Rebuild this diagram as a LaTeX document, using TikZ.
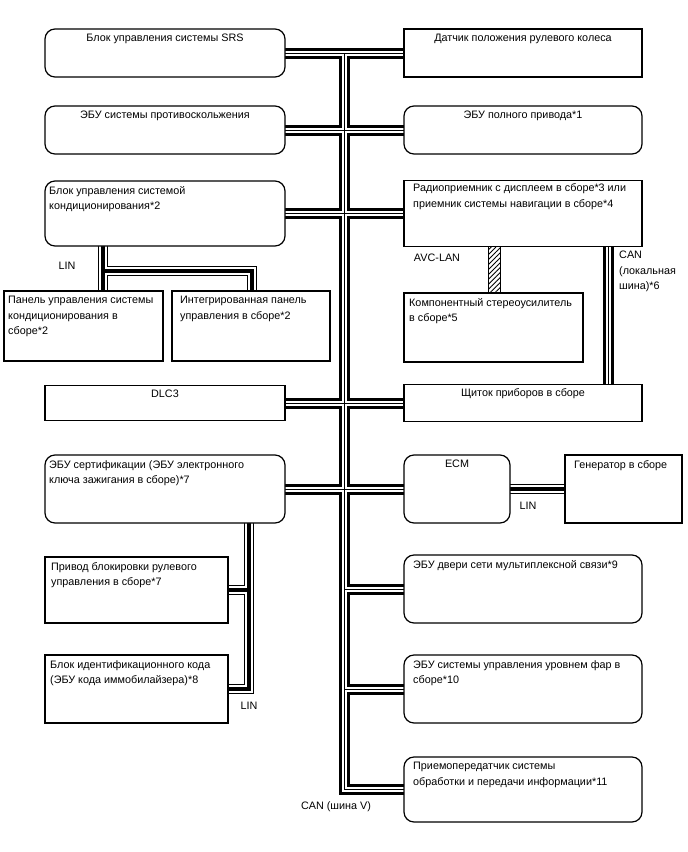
\documentclass[tikz,border=0pt]{standalone}
\usepackage{fontspec}
\setmainfont{Liberation Sans}
\usetikzlibrary{patterns.meta}
\pgfdeclarelayer{background}
\pgfsetlayers{background,main}
\tikzset{
  bx/.style={draw, fill=white, line width=1.2pt, inner sep=0pt, outer sep=0pt},
  rbx/.style={bx, rounded corners=10pt},
  txt/.style={inner sep=0pt, font=\fontsize{10.8}{15.5}\selectfont, align=left},
  cano/.style={line width=11pt, black, line join=miter},
  canw/.style={line width=5pt, white, line join=miter},
  canc/.style={line width=1pt, black, line join=miter},
  lino/.style={line width=10pt, black, line join=miter},
  linw/.style={line width=7.5pt, white, line join=miter},
  linc/.style={line width=3.8pt, black, line join=miter},
  avcbus/.style={draw=black, line width=0.8pt, pattern={Lines[angle=45,distance=3.5pt,line width=0.9pt]}}
}
\newcommand\cannet[1]{%
  \draw[#1] (srs.east) -- (dat.west);
  \draw[#1] (abs.east) -- (awd.west);
  \draw[#1] (ac.east) -- (radio.west);
  \draw[#1] (dlc.east) -- (meter.west);
  \draw[#1] (cert.east) -- (ecm.west);
  \draw[#1] (bus |- door.west) -- (door.west);
  \draw[#1] (bus |- hl.west) -- (hl.west);
  \draw[#1] (bus) -- (bus |- tx.west) -- (tx.west);
  \draw[#1] (radio.south -| canl) -- (meter.north -| canl);
}
\newcommand\linnet[1]{%
  \draw[#1] (linac) -- (linac |- acp.north);
  \draw[#1] (linac |- linbr) -- (linbr) -- (linbr |- icp.north);
  \draw[#1] (lincert) -- (lincert |- immo.east) -- (immo.east);
  \draw[#1] (lincert |- lock.east) -- (lock.east);
  \draw[#1] (ecm.east) -- (gen.west);
}
\begin{document}
\begin{tikzpicture}[x=1pt, y=-1pt]
\useasboundingbox (0,0) rectangle (688,852);
% boxes
\node[rbx, minimum width=240pt, minimum height=48pt] (srs) at (165,53) {};
\node[bx,  minimum width=238pt, minimum height=48pt] (dat) at (523,53) {};
\node[rbx, minimum width=240pt, minimum height=48pt] (abs) at (165,130) {};
\node[rbx, minimum width=238pt, minimum height=48pt] (awd) at (523,130) {};
\node[rbx, minimum width=240pt, minimum height=65pt] (ac) at (165,213.5) {};
\node[bx,  minimum width=238pt, minimum height=66pt] (radio) at (523,213.5) {};
\node[bx,  minimum width=159pt, minimum height=70pt] (acp) at (83.5,326) {};
\node[bx,  minimum width=158pt, minimum height=70pt] (icp) at (251,326) {};
\node[bx,  minimum width=179pt, minimum height=69pt] (amp) at (493.5,327.5) {};
\node[bx,  minimum width=240pt, minimum height=35pt] (dlc) at (165,403) {};
\node[bx,  minimum width=238pt, minimum height=37pt] (meter) at (523,403) {};
\node[rbx, minimum width=240pt, minimum height=68pt] (cert) at (165,489) {};
\node[rbx, minimum width=106pt, minimum height=68pt] (ecm) at (457,489) {};
\node[bx,  minimum width=117pt, minimum height=68pt] (gen) at (623.5,489) {};
\node[bx,  minimum width=183pt, minimum height=66pt] (lock) at (136.5,590) {};
\node[rbx, minimum width=238pt, minimum height=68pt] (door) at (523,589) {};
\node[bx,  minimum width=183pt, minimum height=68pt] (immo) at (136.5,689) {};
\node[rbx, minimum width=238pt, minimum height=68pt] (hl) at (523,689) {};
\node[rbx, minimum width=238pt, minimum height=65pt] (tx) at (523,789.5) {};
% helper coordinates
\coordinate (bus) at (344,53);
\coordinate (canl) at (608,0);
\coordinate (avcl) at (488,0);
\coordinate (avcr) at (500,0);
\coordinate (linac) at ([xshift=58pt]ac.south west);
\coordinate (linbr) at (252,271);
\coordinate (lincert) at ([xshift=204pt]cert.south west);
% connectors
\begin{pgfonlayer}{background}
  \cannet{cano}\cannet{canw}\cannet{canc}
  \linnet{lino}\linnet{linw}\linnet{linc}
  \draw[avcbus] (radio.south -| avcl) rectangle (amp.north -| avcr);
\end{pgfonlayer}
% box texts
\node[txt, anchor=north] at ([yshift=-5pt]srs.north) {Блок управления системы SRS};
\node[txt, anchor=north] at ([yshift=-5pt]dat.north) {Датчик положения рулевого колеса};
\node[txt, anchor=north] at ([yshift=-5pt]abs.north) {ЭБУ системы противоскольжения};
\node[txt, anchor=north] at ([yshift=-5pt]awd.north) {ЭБУ полного привода*1};
\node[txt, anchor=north west] at ([shift={(4pt,-5pt)}]ac.north west) {Блок управления системой\\кондиционирования*2};
\node[txt, anchor=north west] at ([shift={(9pt,-3pt)}]radio.north west) {Радиоприемник с дисплеем в сборе*3 или\\приемник системы навигации в сборе*4};
\node[txt, anchor=north west] at ([shift={(4pt,-5pt)}]acp.north west) {Панель управления системы\\кондиционирования в\\сборе*2};
\node[txt, anchor=north west] at ([shift={(8pt,-5pt)}]icp.north west) {Интегрированная панель\\управления в сборе*2};
\node[txt, anchor=north west] at ([shift={(5pt,-5pt)}]amp.north west) {Компонентный стереоусилитель\\в сборе*5};
\node[txt, anchor=north] at ([yshift=-4pt]dlc.north) {DLC3};
\node[txt, anchor=north] at ([yshift=-4pt]meter.north) {Щиток приборов в сборе};
\node[txt, anchor=north west] at ([shift={(4pt,-5pt)}]cert.north west) {ЭБУ сертификации (ЭБУ электронного\\ключа зажигания в сборе)*7};
\node[txt, anchor=north] at ([yshift=-5pt]ecm.north) {ECM};
\node[txt, anchor=north west] at ([shift={(9pt,-5pt)}]gen.north west) {Генератор в сборе};
\node[txt, anchor=north west] at ([shift={(6pt,-5pt)}]lock.north west) {Привод блокировки рулевого\\управления в сборе*7};
\node[txt, anchor=north west] at ([shift={(9pt,-5pt)}]door.north west) {ЭБУ двери сети мультиплексной связи*9};
\node[txt, anchor=north west] at ([shift={(5pt,-5pt)}]immo.north west) {Блок идентификационного кода\\(ЭБУ кода иммобилайзера)*8};
\node[txt, anchor=north west] at ([shift={(9pt,-5pt)}]hl.north west) {ЭБУ системы управления уровнем фар в\\сборе*10};
\node[txt, anchor=north west] at ([shift={(9pt,-5pt)}]tx.north west) {Приемопередатчик системы\\обработки и передачи информации*11};
% bus labels
\node[txt] (linlab1) at (67,266) {LIN};
\node[txt] (avclab) at (437,258) {AVC-LAN};
\node[txt, anchor=north west] (canllab) at (619,251) {CAN\\(локальная\\шина)*6};
\node[txt] (linlab2) at (528,506) {LIN};
\node[txt] (linlab3) at (249,706) {LIN};
\node[txt] (canvlab) at (336,807) {CAN (шина V)};
\end{tikzpicture}
\end{document}
